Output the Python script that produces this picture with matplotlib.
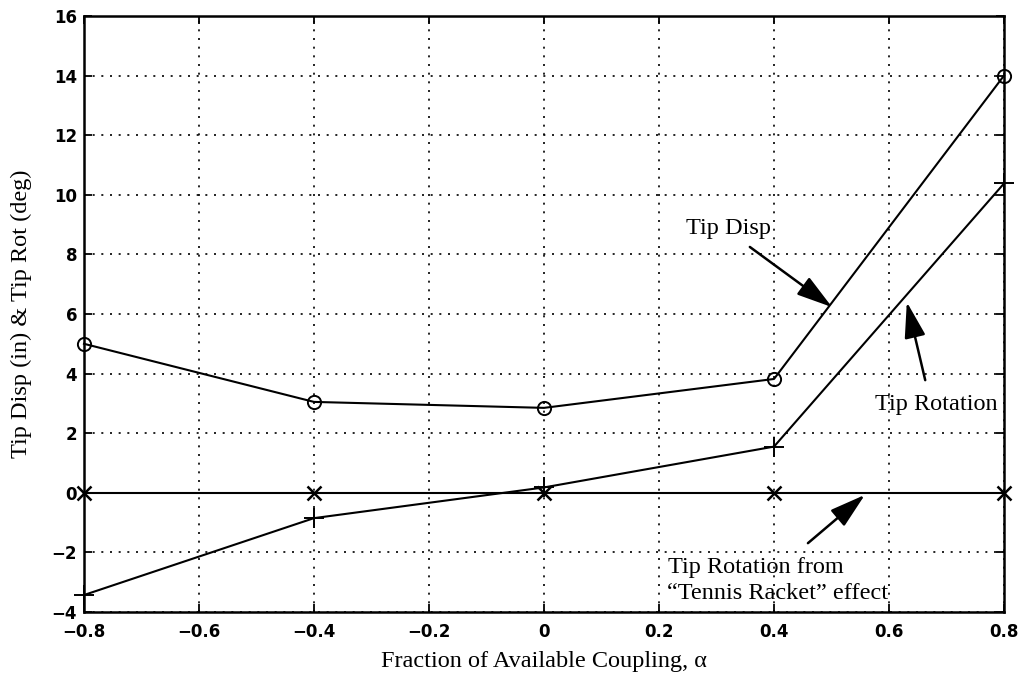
import matplotlib
matplotlib.use("Agg")
import matplotlib.pyplot as plt

alpha = [-0.8, -0.4, 0.0, 0.4, 0.8]
tip_disp = [5.0, 3.05, 2.85, 3.82, 14.0]
tip_rot = [-3.43, -0.85, 0.18, 1.55, 10.38]
tennis = [0.0, 0.0, 0.0, 0.0, 0.0]

xticks = [-0.8, -0.6, -0.4, -0.2, 0, 0.2, 0.4, 0.6, 0.8]
xtick_labels = ["−0.8", "−0.6", "−0.4", "−0.2", "0", "0.2", "0.4", "0.6", "0.8"]
yticks = [-4, -2, 0, 2, 4, 6, 8, 10, 12, 14, 16]
ytick_labels = ["−4", "−2", "0", "2", "4", "6", "8", "10", "12", "14", "16"]

fig = plt.figure(figsize=(10.28, 6.75), dpi=100)
ax = fig.add_axes([84/1028, 1 - 612/675, 920/1028, 596/675])

ax.plot(alpha, tip_disp, color="black", lw=1.5, marker="o", ms=9.5,
        mfc="none", mec="black", mew=1.4, clip_on=False, zorder=3)
ax.plot(alpha, tip_rot, color="black", lw=1.5, marker="+", ms=14,
        mew=1.4, clip_on=False, zorder=3)
ax.plot(alpha, tennis, color="black", lw=1.5, marker="x", ms=9.5,
        mew=1.8, clip_on=False, zorder=3)

ax.set_xlim(-0.8, 0.8)
ax.set_ylim(-4, 16)
ax.set_xticks(xticks)
ax.set_xticklabels(xtick_labels)
ax.set_yticks(yticks)
ax.set_yticklabels(ytick_labels)
ax.grid(True, color="black", linestyle=(0, (1.2, 4)), linewidth=1.2)
ax.tick_params(direction="in", top=True, right=True, length=6, width=1.3,
               labelsize=12)
ax.tick_params(axis="x", pad=8)
ax.tick_params(axis="y", pad=5)
for lab in ax.get_xticklabels() + ax.get_yticklabels():
    lab.set_fontfamily("DejaVu Sans")
    lab.set_fontweight("bold")
for s in ax.spines.values():
    s.set_linewidth(1.8)

serif = "Liberation Serif"
ax.set_xlabel("Fraction of Available Coupling, α", family=serif, fontsize=17.5, labelpad=7)
ax.set_ylabel("Tip Disp (in) & Tip Rot (deg)", family=serif, fontsize=17.5, labelpad=14)

arrow = dict(arrowstyle="-|>,head_length=2.2,head_width=0.65", color="black",
             lw=1.8, shrinkA=0, shrinkB=0, mutation_scale=10)
ax.annotate("", xy=(0.501, 6.23), xytext=(0.358, 8.25), arrowprops=arrow)
ax.text(0.32, 8.88, "Tip Disp", family=serif, fontsize=17.5, ha="center", va="center")
ax.annotate("", xy=(0.631, 6.4), xytext=(0.663, 3.78), arrowprops=arrow)
ax.text(0.682, 2.95, "Tip Rotation", family=serif, fontsize=17.5, ha="center", va="center")
ax.annotate("", xy=(0.558, -0.07), xytext=(0.459, -1.69), arrowprops=arrow)
ax.text(0.216, -2.49, "Tip Rotation from", family=serif, fontsize=17.5, ha="left", va="center")
ax.text(0.214, -3.37, "\u201cTennis Racket\u201d effect", family=serif, fontsize=17.5, ha="left", va="center")

fig.savefig("out.png", dpi=100)
